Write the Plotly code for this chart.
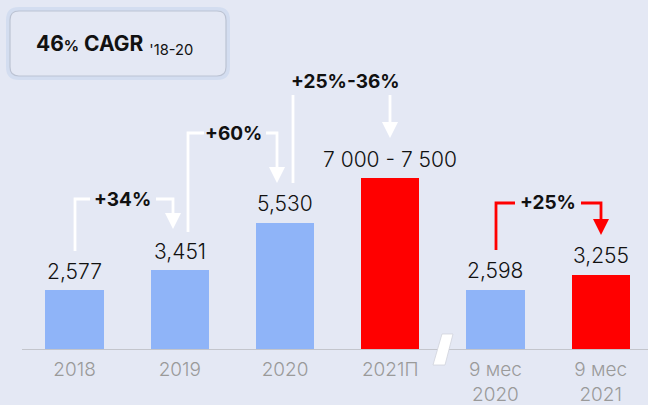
import plotly.graph_objects as go

# ---- data ----
categories = ["2018", "2019", "2020", "2021П", "9 мес<br>2020", "9 мес<br>2021"]
values = [2577, 3451, 5530, 7500, 2598, 3255]
value_labels = ["2,577", "3,451", "5,530", "7 000 - 7 500", "2,598", "3,255"]
bar_colors = ["#8fb4f8", "#8fb4f8", "#8fb4f8", "#ff0000", "#8fb4f8", "#ff0000"]
growth_labels = ["+34%", "+60%", "+25%-36%", "+25%"]
cagr_value = "46"
cagr_period = "'18-20"

BG = "#e4e8f4"
W, H = 648, 405
ML, MR, MT, MB = 22, 0, 0, 56
PW, PH = W - ML - MR, H - MT - MB

def px(x):
    return (x - ML) / PW

def py(y):
    return (H - MB - y) / PH

x_pos = list(range(len(categories)))

fig = go.Figure()
fig.add_trace(go.Bar(
    x=x_pos, y=values, marker=dict(color=bar_colors, line=dict(width=0)),
    width=0.554, hoverinfo="skip", showlegend=False,
))

FONT = "Inter"

for xi, v, lab in zip(x_pos, values, value_labels):
    fig.add_annotation(x=xi, y=v, xref="x", yref="y", text=lab, showarrow=False,
                       yanchor="middle", yshift=19,
                       font=dict(family=FONT, size=21, color="#111111", weight=300))

shapes = []

def line_path(points, color):
    d = "M " + " L ".join(f"{px(x):.5f},{py(y):.5f}" for x, y in points)
    shapes.append(dict(type="path", path=d, xref="paper", yref="paper",
                       line=dict(color=color, width=2.8), layer="above"))

def arrow_head(x, y_tip, color, w=8, h=16):
    d = (f"M {px(x - w):.5f},{py(y_tip - h):.5f} L {px(x + w):.5f},{py(y_tip - h):.5f} "
         f"L {px(x):.5f},{py(y_tip):.5f} Z")
    shapes.append(dict(type="path", path=d, xref="paper", yref="paper",
                       fillcolor=color, line=dict(color=color, width=0), layer="above"))

def label(x, y, text, color="#111111", xanchor="center"):
    fig.add_annotation(x=px(x), y=py(y), xref="paper", yref="paper", text=f"<b>{text}</b>",
                       showarrow=False, xanchor=xanchor, yanchor="middle",
                       font=dict(family=FONT, size=19, color=color))

WHITE = "#ffffff"
RED = "#ff0000"

# +34%
line_path([(75, 251), (75, 199), (90, 199)], WHITE)
line_path([(156, 199), (173, 199), (173, 215)], WHITE)
arrow_head(173, 229, WHITE)
label(123, 199, growth_labels[0])

# +60%
line_path([(188, 232), (188, 133), (204, 133)], WHITE)
line_path([(266, 133), (277, 133), (277, 168)], WHITE)
arrow_head(277, 183, WHITE)
label(233, 133, growth_labels[1])

# +25%-36%
line_path([(293, 183), (293, 95)], WHITE)
line_path([(390, 95), (390, 123)], WHITE)
arrow_head(390, 138, WHITE)
label(289, 82, growth_labels[2], xanchor="left")

# +25% (9 months)
line_path([(496, 250), (496, 203), (515, 203)], RED)
line_path([(581, 203), (601, 203), (601, 221)], RED)
arrow_head(601, 235, RED)
label(548, 203, growth_labels[3])

# axis break slash
d = (f"M {px(442):.5f},{py(334):.5f} L {px(453):.5f},{py(334):.5f} "
     f"L {px(445):.5f},{py(365):.5f} L {px(433):.5f},{py(365):.5f} Z")
shapes.append(dict(type="path", path=d, xref="paper", yref="paper",
                   fillcolor="#ffffff", line=dict(color="#d0d3dc", width=0.8), layer="above"))

# CAGR box (outer glow + border)
def rrect(x0, y0, x1, y1, r):
    return (f"M {px(x0 + r)},{py(y0)} L {px(x1 - r)},{py(y0)} Q {px(x1)},{py(y0)} {px(x1)},{py(y0 + r)} "
            f"L {px(x1)},{py(y1 - r)} Q {px(x1)},{py(y1)} {px(x1 - r)},{py(y1)} "
            f"L {px(x0 + r)},{py(y1)} Q {px(x0)},{py(y1)} {px(x0)},{py(y1 - r)} "
            f"L {px(x0)},{py(y0 + r)} Q {px(x0)},{py(y0)} {px(x0 + r)},{py(y0)} Z")

shapes.append(dict(type="path", path=rrect(8, 9, 228, 78, 11), xref="paper", yref="paper",
                   fillcolor=BG, line=dict(color="#d3ddf0", width=4), layer="above"))
shapes.append(dict(type="path", path=rrect(10, 11, 226, 76, 9), xref="paper", yref="paper",
                   fillcolor=BG, line=dict(color="#bcc3d3", width=1.2), layer="above"))

fig.add_annotation(
    x=px(34), y=py(45), xref="paper", yref="paper", xanchor="left", yanchor="middle",
    showarrow=False,
    text=(f"<b>{cagr_value}</b><span style='font-size:15px'><b>%</b></span><b> CAGR</b> "
          f"<sub>{cagr_period}</sub>"),
    font=dict(family=FONT, size=21, color="#111111"),
)

fig.update_layout(
    width=W, height=H,
    margin=dict(l=ML, r=MR, t=MT, b=MB, autoexpand=False),
    paper_bgcolor=BG, plot_bgcolor=BG,
    shapes=shapes,
    bargap=0,
    xaxis=dict(
        range=[-0.5, 5.45], tickvals=x_pos, ticktext=categories,
        showgrid=False, zeroline=False, showline=True, linecolor="#c3c5cc", linewidth=1,
        ticks="", ticklabelstandoff=3, automargin=False,
        tickfont=dict(family=FONT, size=19, color="#9a9a9a", weight=300),
        fixedrange=True,
    ),
    yaxis=dict(range=[0, 349 / 0.0228], visible=False, showgrid=False, zeroline=False,
               fixedrange=True, automargin=False),
)

fig.write_html("out.html", config={"displayModeBar": False},
               post_script="document.body.style.margin='0';document.body.style.background='" + BG + "';")
